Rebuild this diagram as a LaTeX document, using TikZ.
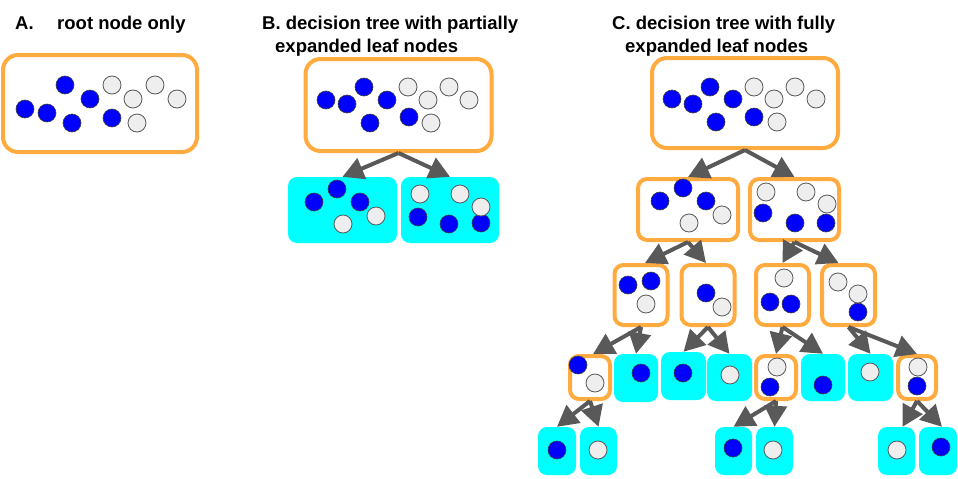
\documentclass[tikz,border=0pt]{standalone}
\usepackage{fontspec}
\setmainfont{Liberation Sans}
\usetikzlibrary{arrows.meta}
\definecolor{boxorange}{RGB}{255,171,64}
\definecolor{leafcyan}{RGB}{0,255,255}
\definecolor{ballblue}{RGB}{0,0,255}
\definecolor{ballgrey}{RGB}{238,238,238}
\definecolor{arrowgrey}{RGB}{89,89,89}

\begin{document}
\begin{tikzpicture}[x=1pt,y=-1pt]
% 
% three panels: A = root only, B = root + 2 leaves, C = full tree
% one unit = one pixel of the reference, y runs downwards
%
\tikzstyle{split} = [rectangle, rounded corners=9pt, draw=boxorange, line width=4pt, fill=white, inner sep=0pt]
\tikzstyle{rootbox} = [split, rounded corners=15pt, minimum width=186pt, minimum height=92pt]
\tikzstyle{leaf} = [rectangle, rounded corners=9pt, fill=leafcyan, inner sep=0pt]
\tikzstyle{title} = [anchor=base west, inner sep=0pt, font=\fontsize{18.5}{22}\selectfont\bfseries]
\tikzstyle{arrow} = [draw=arrowgrey, line width=4pt, -{Triangle[length=21pt,width=22pt]}]
\tikzstyle{blueball} = [draw=arrowgrey!70!black, line width=0.6pt, fill=ballblue]
\tikzstyle{greyball} = [draw=arrowgrey, line width=0.8pt, fill=ballgrey]

\useasboundingbox (0,0) rectangle (958,479);

% Titles
\node (titleA) [title] at (15,29) {A.};
\node (titleA2) [title] at (57,29) {root node only};
\node (titleB) [title] at (262,29) {B. decision tree with partially};
\node (titleB2) [title] at (275,52) {expanded leaf nodes};
\node (titleC) [title] at (612,29) {C. decision tree with fully};
\node (titleC2) [title] at (625,52) {expanded leaf nodes};

% Nodes
% panel A
\node (rootA) [rootbox, minimum width=194pt, minimum height=97pt] at (100,103.5) {};
% panel B
\node (rootB) [rootbox] at (398.5,105) {};
\node (leafBl) [leaf, minimum width=109pt, minimum height=66pt] at (342.5,210) {};
\node (leafBr) [leaf, minimum width=98pt, minimum height=66pt] at (450,210) {};
% panel C
\node (rootC) [rootbox, minimum height=90pt] at (745,103) {};
\node (cL) [split, minimum width=100pt, minimum height=61pt] at (688,209.5) {};
\node (cR) [split, minimum width=89pt, minimum height=61pt] at (794.5,209.5) {};
\node (cLL) [split, minimum width=53pt, minimum height=60pt] at (641,295) {};
\node (cLR) [split, minimum width=53pt, minimum height=60pt] at (708,295) {};
\node (cRL) [split, minimum width=53pt, minimum height=60pt] at (782.5,295) {};
\node (cRR) [split, minimum width=53pt, minimum height=60pt] at (848.5,295) {};
\node (sA) [split, minimum width=40pt, minimum height=43pt] at (590,377.5) {};
\node (leafA) [leaf, minimum width=44pt, minimum height=48pt] at (636,378) {};
\node (leafB) [leaf, minimum width=45pt, minimum height=48pt] at (683.5,376) {};
\node (leafC) [leaf, minimum width=45pt, minimum height=47pt] at (729.5,377.5) {};
\node (sB) [split, minimum width=40pt, minimum height=43pt] at (776,377.5) {};
\node (leafD) [leaf, minimum width=44pt, minimum height=47pt] at (823,377.5) {};
\node (leafE) [leaf, minimum width=45pt, minimum height=47pt] at (870.5,377.5) {};
\node (sC) [split, minimum width=38pt, minimum height=43pt] at (917,377.5) {};
\node (leafF) [leaf, minimum width=38pt, minimum height=48pt] at (557,451) {};
\node (leafG) [leaf, minimum width=37pt, minimum height=48pt] at (598.5,451) {};
\node (leafH) [leaf, minimum width=37pt, minimum height=48pt] at (733.5,451) {};
\node (leafI) [leaf, minimum width=37pt, minimum height=48pt] at (774.5,451) {};
\node (leafJ) [leaf, minimum width=37pt, minimum height=48pt] at (896.5,451) {};
\node (leafK) [leaf, minimum width=38pt, minimum height=48pt] at (938,451) {};

% Balls (blue class / grey class)
\foreach \x/\y in {25/109, 47/113, 65/85, 72/123, 90/99, 112/118,
                   326/100, 347/104, 364/87, 370/123, 387/100, 409/117,
                   314/202, 337/189, 360/202, 418/217, 449/224, 481/223,
                   672/99, 693/104, 710/87, 733/99, 716/122, 754/117,
                   660/201, 683/188, 706/201, 763/213, 795/223, 826/223,
                   628/285, 651/281, 706/293, 770/302, 791/304, 858/312,
                   578/365, 641/373, 683/373, 770/387, 823/385, 917/386,
                   557/450, 733/448, 941/447}
  \draw [blueball] (\x,\y) circle [radius=9pt];
\foreach \x/\y in {112/85, 133/99, 155/85, 177/99, 137/123,
                   408/87, 428/100, 449/87, 469/100, 431/123,
                   343/224, 376/216, 420/194, 460/194, 481/207,
                   754/87, 774/99, 795/87, 816/99, 777/122,
                   689/223, 722/215, 766/192, 806/192, 827/204,
                   646/304, 722/307, 784/278, 838/282, 858/294,
                   595/383, 730/375, 777/367, 870/372, 918/367,
                   598/450, 773/450, 897/450}
  \draw [greyball] (\x,\y) circle [radius=9pt];

% Arrows
\draw [arrow] (rootB.south) -- (leafBl.north);
\draw [arrow] (rootB.south) -- (leafBr.north);
\draw [arrow] (rootC.south) -- (cL.north);
\draw [arrow] (rootC.south) -- (cR.north);
\draw [arrow] (cL.south) -- ([xshift=4pt]cLL.north);
\draw [arrow] (cL.south) -- ([xshift=-2pt]cLR.north);
\draw [arrow] (cR.south) -- (cRL.north);
\draw [arrow] (cR.south) -- ([xshift=-10pt]cRR.north);
\draw [arrow] (cLL.south) -- ([xshift=3pt]sA.north);
\draw [arrow] (cLL.south) -- (leafA.north);
\draw [arrow] (cLR.south) -- (leafB.north);
\draw [arrow] (cLR.south) -- (leafC.north);
\draw [arrow] (cRL.south) -- (sB.north);
\draw [arrow] (cRL.south) -- (leafD.north);
\draw [arrow] (cRR.south) -- (leafE.north);
\draw [arrow] (cRR.south) -- (sC.north);
\draw [arrow] (sA.south) -- (leafF.north);
\draw [arrow] (sA.south) -- (leafG.north);
\draw [arrow] (sB.south) -- (leafH.north);
\draw [arrow] (sB.south) -- (leafI.north);
\draw [arrow] (sC.south) -- ([xshift=6pt]leafJ.north);
\draw [arrow] (sC.south) -- ([xshift=4pt]leafK.north);

\end{tikzpicture}
\end{document}
